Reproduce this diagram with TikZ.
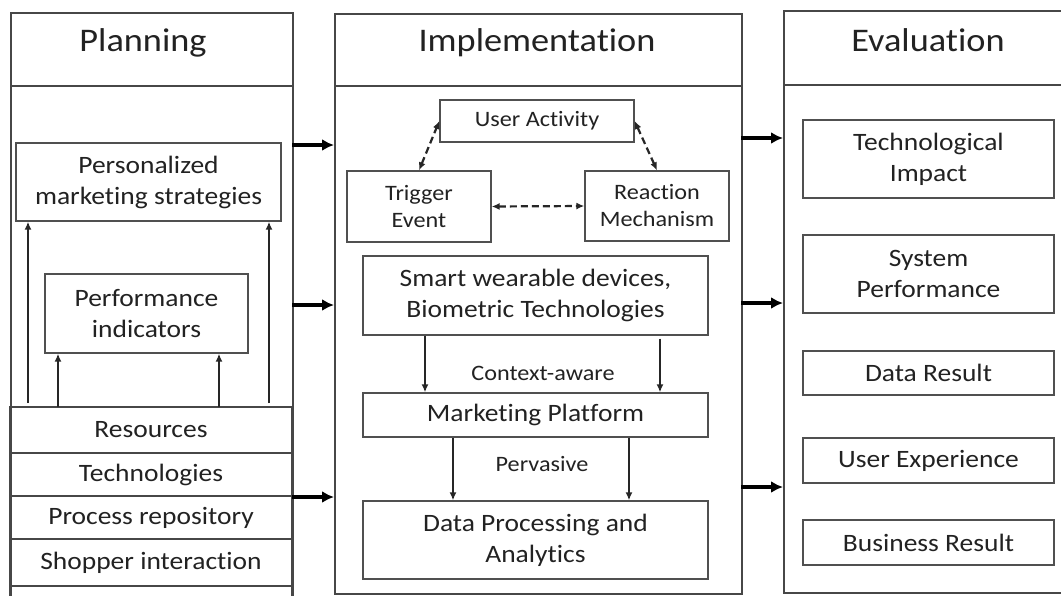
\documentclass[tikz,border=0pt]{standalone}
\usepackage{fontspec}
\setmainfont{Carlito}[FakeStretch=1.1,RawFeature={-liga;-clig;-dlig}]
\usetikzlibrary{arrows.meta,calc}
\definecolor{txt}{HTML}{222222}
\definecolor{frame}{HTML}{474747}
\definecolor{bline}{HTML}{505050}
\tikzset{
 col/.style={draw=frame,line width=1.8pt,anchor=north west,inner sep=0pt},
 hline/.style={draw=frame,line width=1.8pt},
 box/.style={draw=bline,line width=1.3pt,text=txt,align=center,inner sep=0pt,font=\fontsize{25}{31}\selectfont},
 sbox/.style={box,font=\fontsize{22}{27}\selectfont},
 hdr/.style={text=txt,font=\fontsize{33}{40}\selectfont,anchor=base,inner sep=0pt},
 bigarrow/.style={-{Latex[length=12pt,width=12pt]},line width=3.2pt,black},
 smallarrow/.style={-{Latex[length=8pt,width=7pt]},line width=1.6pt,black!85},
 dasharrow/.style={{Latex[length=8pt,width=7pt]}-{Latex[length=8pt,width=7pt]},dash pattern=on 7pt off 4pt,line width=2.2pt,black!85},
 lbl/.style={text=txt,font=\fontsize{22}{27}\selectfont,inner sep=0pt}
}
\begin{document}
\begin{tikzpicture}[x=1pt,y=-1pt]
\clip (0,0) rectangle (1061,595);
\fill[white] (0,0) rectangle (1061,595);

% ---------- columns ----------
\node[col,minimum width=282pt,minimum height=600pt] (plancol) at (10,12) {};
\node[col,minimum width=407pt,minimum height=580pt] (midcol) at (334,13) {};
\node[col,minimum width=300pt,minimum height=582pt] (evalcol) at (783,10) {};

\coordinate (ph) at (10,86);
\coordinate (mh) at (334,86);
\coordinate (eh) at (783,85);
\draw[hline] (ph) -- (ph -| plancol.east);
\draw[hline] (mh) -- (mh -| midcol.east);
\draw[hline] (eh) -- (eh -| evalcol.east);

\node[hdr] (planT) at (143,51) {Planning};
\node[hdr] (implT) at (537,51) {Implementation};
\node[hdr] (evalT) at (928,51) {Evaluation};

% ---------- planning ----------
\node[box,minimum width=265pt,minimum height=78pt] (pers) at (148.5,182) {Personalized\\marketing strategies};
\node[box,minimum width=203pt,minimum height=79pt] (perf) at (146.5,313.5) {Performance\\indicators};
\node[box,draw=frame,line width=1.6pt,minimum width=282pt,minimum height=46pt] (res) at (151,430) {Resources};
\node[box,draw=frame,line width=1.6pt,minimum width=282pt,minimum height=43pt] (tech) at (151,474.5) {Technologies};
\node[box,draw=frame,line width=1.6pt,minimum width=282pt,minimum height=43pt] (proc) at (151,517.5) {Process repository};
\node[box,draw=frame,line width=1.6pt,minimum width=282pt,minimum height=47pt] (shop) at (151,562.5) {Shopper interaction};
\node[box,draw=frame,line width=1.6pt,minimum width=282pt,minimum height=30pt] (extra) at (151,601) {};

\coordinate (o1) at (28,403);
\coordinate (o2) at (269,403);
\coordinate (i1) at (58,407);
\coordinate (i2) at (219,407);
\draw[smallarrow] (o1) -- (o1 |- pers.south);
\draw[smallarrow] (o2) -- (o2 |- pers.south);
\draw[smallarrow] (i1) -- (i1 |- perf.south);
\draw[smallarrow] (i2) -- (i2 |- perf.south);

% ---------- implementation ----------
\node[sbox,minimum width=194pt,minimum height=42pt] (ua) at (537,121) {User Activity};
\node[sbox,minimum width=144pt,minimum height=71pt] (trig) at (419,206.5) {Trigger\\Event};
\node[sbox,minimum width=144pt,minimum height=70pt] (reac) at (657,206) {Reaction\\Mechanism};
\node[box,minimum width=345pt,minimum height=79pt] (smart) at (535.5,295.5) {Smart wearable devices,\\Biometric Technologies};
\node[box,minimum width=345pt,minimum height=44pt] (mkt) at (535.5,415) {Marketing Platform};
\node[box,minimum width=345pt,minimum height=78pt] (data) at (535.5,540) {Data Processing and\\Analytics};

\draw[dasharrow] (trig.north) -- (ua.west);
\draw[dasharrow] (ua.east) -- (reac.north);
\draw[dasharrow] (trig.east) -- (reac.west);

\coordinate (c1) at (425,0);
\coordinate (c2) at (660,0);
\coordinate (c3) at (453,0);
\coordinate (c4) at (629,0);
\draw[smallarrow] (c1 |- smart.south) -- (c1 |- mkt.north);
\draw[smallarrow] ([yshift=-3pt]c2 |- smart.south) -- (c2 |- mkt.north);
\draw[smallarrow] (c3 |- mkt.south) -- (c3 |- data.north);
\draw[smallarrow] (c4 |- mkt.south) -- (c4 |- data.north);
\node[lbl] (ctx) at (543,373) {Context-aware};
\node[lbl] (perv) at (542,464) {Pervasive};

% ---------- evaluation ----------
\node[box,minimum width=251pt,minimum height=78pt] (ti) at (928.5,159) {Technological\\Impact};
\node[box,minimum width=251pt,minimum height=78pt] (sp) at (928.5,274) {System\\Performance};
\node[box,minimum width=251pt,minimum height=44pt] (dr) at (928.5,373) {Data Result};
\node[box,minimum width=251pt,minimum height=45pt] (ux) at (928.5,460.5) {User Experience};
\node[box,minimum width=251pt,minimum height=45pt] (br) at (928.5,542.5) {Business Result};

% ---------- column arrows ----------
\coordinate (a1) at (292,145);
\coordinate (a2) at (292,305);
\coordinate (a3) at (292,497);
\draw[bigarrow] (a1) -- (a1 -| midcol.west);
\draw[bigarrow] (a2) -- (a2 -| midcol.west);
\draw[bigarrow] (a3) -- (a3 -| midcol.west);
\coordinate (b1) at (741,138);
\coordinate (b2) at (741,303);
\coordinate (b3) at (741,487);
\draw[bigarrow] (b1) -- (b1 -| evalcol.west);
\draw[bigarrow] (b2) -- (b2 -| evalcol.west);
\draw[bigarrow] (b3) -- (b3 -| evalcol.west);
\end{tikzpicture}
\end{document}
